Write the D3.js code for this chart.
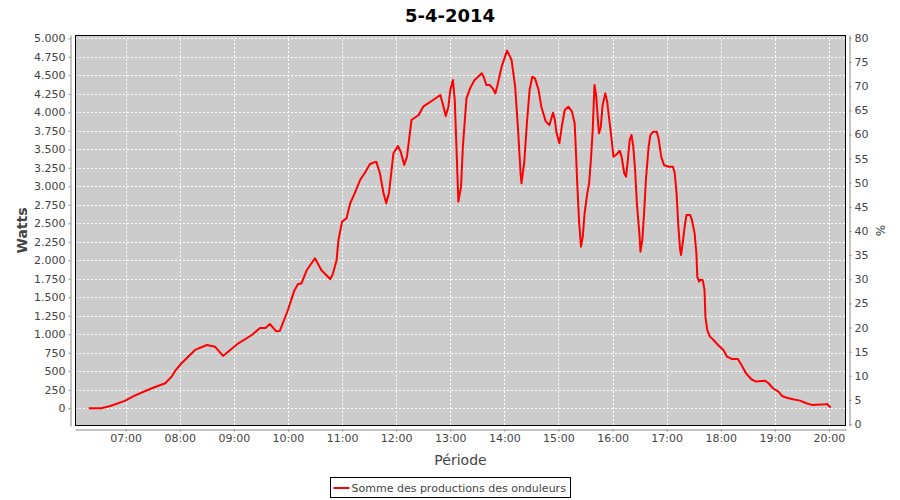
<!DOCTYPE html>
<html>
<head>
<meta charset="utf-8">
<script src="https://cdn.jsdelivr.net/npm/d3@7"></script>
<style>
  html, body { margin: 0; padding: 0; background: #ffffff; }
  svg { display: block; font-family: "DejaVu Sans", sans-serif; }
</style>
</head>
<body>
<svg id="chart" width="900" height="500"></svg>
<script>
// ---- Data ----
const chartTitle = "5-4-2014";
const seriesName = "Somme des productions des onduleurs";
const times = ["06:19","06:33","06:43","06:59","07:10","07:29","07:44","07:51","07:55","08:02","08:17","08:30","08:39","08:48","08:56","09:05","09:20","09:29","09:35","09:40","09:47","09:51","10:00","10:07","10:11","10:15","10:21","10:30","10:37","10:47","10:50","10:54","10:56","11:00","11:05","11:09","11:14","11:20","11:25","11:31","11:38","11:42","11:46","11:49","11:52","11:57","12:02","12:05","12:09","12:12","12:17","12:25","12:30","12:41","12:49","12:52","12:55","12:58","13:00","13:03","13:05","13:07","13:09","13:12","13:14","13:18","13:22","13:27","13:35","13:37","13:40","13:44","13:47","13:50","13:52","13:57","14:03","14:08","14:12","14:15","14:18","14:19","14:22","14:25","14:28","14:31","14:34","14:38","14:41","14:46","14:50","14:54","14:56","14:58","15:01","15:04","15:07","15:11","15:15","15:18","15:19","15:21","15:23","15:25","15:27","15:29","15:32","15:34","15:36","15:38","15:39","15:40","15:42","15:44","15:45","15:47","15:49","15:52","15:54","15:56","15:59","16:01","16:05","16:08","16:10","16:13","16:15","16:17","16:19","16:21","16:23","16:25","16:27","16:30","16:31","16:33","16:35","16:37","16:40","16:42","16:45","16:49","16:51","16:54","16:57","17:02","17:07","17:09","17:11","17:13","17:15","17:16","17:18","17:20","17:22","17:26","17:28","17:31","17:33","17:34","17:36","17:37","17:40","17:42","17:43","17:45","17:48","17:52","17:57","18:03","18:07","18:12","18:19","18:23","18:28","18:34","18:39","18:49","18:53","18:58","19:04","19:08","19:13","19:20","19:28","19:35","19:41","19:56","19:58","20:02"];
const watts = [0,0,30,100,170,270,338,427,508,608,788,855,832,707,788,878,990,1085,1085,1139,1040,1045,1328,1589,1676,1689,1869,2027,1869,1743,1824,2004,2274,2522,2568,2770,2905,3085,3176,3301,3333,3176,2905,2770,2905,3446,3545,3468,3288,3400,3896,3964,4076,4166,4234,4099,3950,4076,4301,4436,4166,3490,2792,2995,3536,4189,4324,4436,4527,4482,4369,4369,4324,4256,4346,4617,4833,4707,4346,3806,3176,3040,3311,3851,4301,4482,4459,4301,4076,3874,3828,3995,3896,3716,3581,3828,4031,4076,4009,3851,3581,2995,2500,2184,2319,2635,2905,3040,3356,3761,4076,4369,4211,3851,3716,3806,4099,4256,4144,3941,3626,3400,3436,3481,3400,3176,3130,3356,3626,3693,3536,3220,2770,2319,2116,2274,2635,3085,3536,3693,3738,3738,3648,3400,3288,3265,3265,3176,2905,2455,2139,2072,2252,2455,2613,2613,2545,2365,2094,1778,1711,1734,1734,1599,1238,1058,968,923,855,788,697,666,666,585,473,392,360,373,338,270,225,166,143,122,103,68,45,54,58,8];
const wattTicks = [0,250,500,750,1000,1250,1500,1750,2000,2250,2500,2750,3000,3250,3500,3750,4000,4250,4500,4750,5000];
const pctTicks = [0,5,10,15,20,25,30,35,40,45,50,55,60,65,70,75,80];
const hourTicks = ["07:00","08:00","09:00","10:00","11:00","12:00","13:00","14:00","15:00","16:00","17:00","18:00","19:00","20:00"];
const xDomainText = ["06:03:50","20:18:55"];
const wattDomain = [-240, 5045];
const pctDomain = [-0.4, 80.6];

// ---- Layout ----
const plot = { left: 75, right: 846, top: 35, bottom: 426 };
const parseT = d3.timeParse("%H:%M");
const parseTS = d3.timeParse("%H:%M:%S");
const data = times.map((t, i) => ({ t: parseT(t), v: watts[i] }));

const svg = d3.select("#chart");
const x = d3.scaleTime().domain(xDomainText.map(parseTS)).range([plot.left, plot.right]);
const y = d3.scaleLinear().domain(wattDomain).range([plot.bottom, plot.top]);
const y2 = d3.scaleLinear().domain(pctDomain).range([plot.bottom, plot.top]);

const fmtWatt = v => d3.format(",")(v).replace(/,/g, ".");
const axisColor = "#888888";
const textColor = "#444444";

// Title
svg.append("text")
  .attr("x", 450).attr("y", 22)
  .attr("text-anchor", "middle")
  .attr("font-size", 18).attr("font-weight", "bold")
  .attr("fill", "#000")
  .text(chartTitle);

// Plot background
svg.append("rect")
  .attr("x", plot.left).attr("y", plot.top)
  .attr("width", plot.right - plot.left).attr("height", plot.bottom - plot.top)
  .attr("fill", "#cccccc");

// Grid
const grid = svg.append("g").attr("stroke", "#ffffff").attr("stroke-width", 1).attr("stroke-dasharray", "2,2");
grid.selectAll("line.h").data(wattTicks).join("line")
  .attr("x1", plot.left).attr("x2", plot.right)
  .attr("y1", d => Math.round(y(d)) + 0.5).attr("y2", d => Math.round(y(d)) + 0.5);
grid.selectAll("line.v").data(hourTicks.map(parseT)).join("line")
  .attr("y1", plot.top).attr("y2", plot.bottom)
  .attr("x1", d => Math.round(x(d)) + 0.5).attr("x2", d => Math.round(x(d)) + 0.5);

// Line
const clip = svg.append("clipPath").attr("id", "clip").append("rect")
  .attr("x", plot.left).attr("y", plot.top)
  .attr("width", plot.right - plot.left).attr("height", plot.bottom - plot.top);
svg.append("path")
  .datum(data)
  .attr("clip-path", "url(#clip)")
  .attr("fill", "none")
  .attr("stroke", "#ff0000")
  .attr("stroke-width", 2)
  .attr("stroke-linejoin", "round")
  .attr("d", d3.line().x(d => x(d.t)).y(d => y(d.v)));

// Plot border
svg.append("rect")
  .attr("x", plot.left + 0.5).attr("y", plot.top + 0.5)
  .attr("width", plot.right - plot.left - 1).attr("height", plot.bottom - plot.top - 1)
  .attr("fill", "none").attr("stroke", "#000").attr("stroke-width", 1);

function styleAxis(g) {
  g.selectAll(".domain").attr("stroke", axisColor);
  g.selectAll(".tick line").attr("stroke", axisColor);
  g.selectAll(".tick text").attr("fill", textColor).attr("font-size", 11).attr("font-family", "DejaVu Sans, sans-serif");
}

// Left axis
const gL = svg.append("g").attr("transform", `translate(${plot.left - 4.5},0)`)
  .call(d3.axisLeft(y).tickValues(wattTicks).tickFormat(fmtWatt).tickSize(2).tickSizeOuter(0).tickPadding(3));
styleAxis(gL);

// Right axis
const gR = svg.append("g").attr("transform", `translate(${plot.right + 3.5},0)`)
  .call(d3.axisRight(y2).tickValues(pctTicks).tickSize(2).tickSizeOuter(0).tickPadding(3));
styleAxis(gR);

// Bottom axis
const gB = svg.append("g").attr("transform", `translate(0,${plot.bottom + 3.5})`)
  .call(d3.axisBottom(x).tickValues(hourTicks.map(parseT)).tickFormat(d3.timeFormat("%H:%M")).tickSize(2).tickSizeOuter(0).tickPadding(3));
styleAxis(gB);

// Axis labels
svg.append("text")
  .attr("transform", `translate(27,${(plot.top + plot.bottom) / 2}) rotate(-90)`)
  .attr("text-anchor", "middle")
  .attr("font-size", 14).attr("font-weight", "bold").attr("fill", textColor)
  .text("Watts");
svg.append("text")
  .attr("transform", `translate(876,${(plot.top + plot.bottom) / 2}) rotate(90)`)
  .attr("text-anchor", "middle")
  .attr("font-size", 12).attr("fill", textColor)
  .text("%");
svg.append("text")
  .attr("x", (plot.left + plot.right) / 2).attr("y", 465)
  .attr("text-anchor", "middle")
  .attr("font-size", 14).attr("fill", textColor)
  .text("Période");

// Legend
const leg = svg.append("g");
const legText = leg.append("text")
  .attr("x", 0).attr("y", 0)
  .attr("font-size", 11).attr("fill", textColor)
  .text(seriesName);
const tw = legText.node().getComputedTextLength();
const boxW = tw + 26;
const bx = Math.round(450 - boxW / 2) + 0.5;
leg.insert("rect", "text")
  .attr("x", bx).attr("y", 477.5)
  .attr("width", Math.round(boxW)).attr("height", 20)
  .attr("fill", "#ffffff").attr("stroke", "#000").attr("stroke-width", 1);
leg.append("line")
  .attr("x1", bx + 3).attr("x2", bx + 19)
  .attr("y1", 488).attr("y2", 488)
  .attr("stroke", "#ff0000").attr("stroke-width", 2);
legText.attr("x", bx + 21).attr("y", 492);
</script>
</body>
</html>
